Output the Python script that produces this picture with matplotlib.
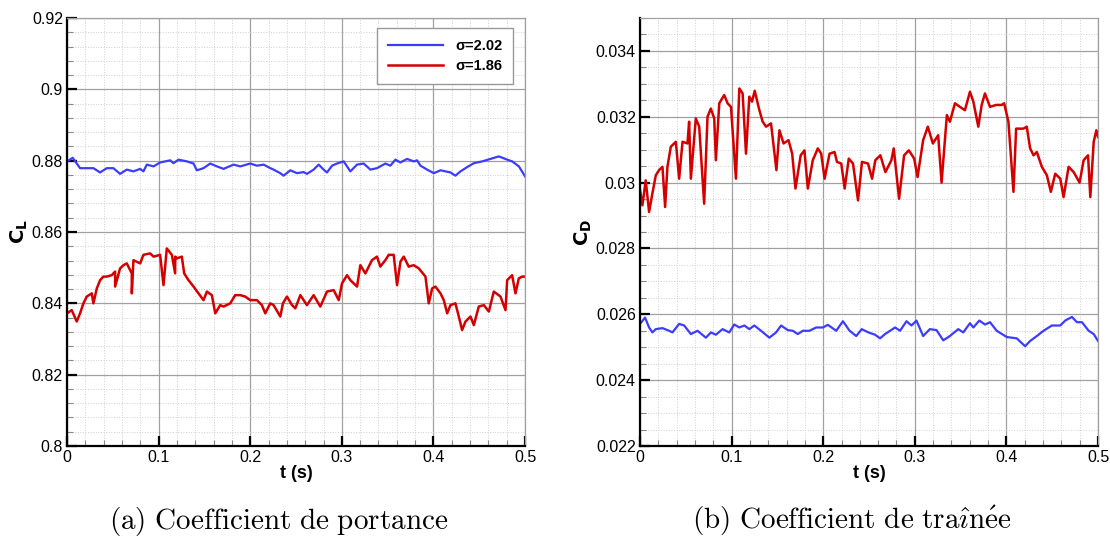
import numpy as np
import matplotlib
matplotlib.use('Agg')
import matplotlib.pyplot as plt
from matplotlib.ticker import MultipleLocator, FormatStrFormatter

# ---- données ----
# CL, sigma = 2.02
t_cl_b = [0, 0.0062, 0.0142, 0.0288, 0.0361, 0.0434, 0.0506, 0.0579, 0.0652, 0.0725,
          0.0798, 0.0834, 0.0871, 0.0944, 0.1016, 0.1126, 0.1162, 0.1217, 0.1308, 0.1381,
          0.1417, 0.149, 0.1563, 0.1636, 0.1709, 0.1818, 0.1891, 0.2, 0.2073, 0.2146,
          0.2219, 0.2255, 0.2328, 0.2364, 0.2437, 0.251, 0.2583, 0.2619, 0.2692, 0.2747,
          0.2801, 0.2838, 0.2893, 0.2947, 0.302, 0.3093, 0.3166, 0.3239, 0.3311, 0.3384,
          0.3475, 0.353, 0.3585, 0.3639, 0.3712, 0.3785, 0.3821, 0.3858, 0.3931, 0.4004,
          0.4077, 0.4186, 0.424, 0.4295, 0.4368, 0.4441, 0.4532, 0.4623, 0.4714, 0.4805,
          0.486, 0.4933, 0.5]
cl_b = [0.8798, 0.8808, 0.8779, 0.8779, 0.8767, 0.8779, 0.8779, 0.8763, 0.8775, 0.877,
        0.8777, 0.877, 0.8789, 0.8784, 0.8795, 0.8801, 0.8793, 0.8803, 0.8798, 0.8792,
        0.8773, 0.8779, 0.8792, 0.8784, 0.8777, 0.8789, 0.8784, 0.8792, 0.8786, 0.8789,
        0.8779, 0.8775, 0.8765, 0.8758, 0.8773, 0.8765, 0.8768, 0.8763, 0.8775, 0.8789,
        0.8775, 0.8767, 0.8786, 0.8792, 0.8798, 0.877, 0.8789, 0.8792, 0.8775, 0.8779,
        0.8792, 0.8786, 0.8803, 0.8795, 0.8805, 0.8798, 0.8801, 0.8786, 0.8775, 0.8765,
        0.8773, 0.8767, 0.8758, 0.877, 0.8782, 0.8793, 0.8798, 0.8805, 0.8812, 0.8803,
        0.8798, 0.8784, 0.8756]

# CL, sigma = 1.86
t_cl_r = [0, 0.0051, 0.0106, 0.0142, 0.0179, 0.0215, 0.027, 0.0288, 0.0325, 0.0361,
          0.0397, 0.0434, 0.0488, 0.0525, 0.0525, 0.0579, 0.0616, 0.0652, 0.0707, 0.0707,
          0.0725, 0.0798, 0.0834, 0.0907, 0.0944, 0.1016, 0.1053, 0.1089, 0.1144, 0.118,
          0.1181, 0.1199, 0.1253, 0.1279, 0.1326, 0.1381, 0.1435, 0.149, 0.1527, 0.1581,
          0.1618, 0.1672, 0.1709, 0.1782, 0.1836, 0.1891, 0.1945, 0.2, 0.2073, 0.2127,
          0.2164, 0.2219, 0.2255, 0.2328, 0.2357, 0.2401, 0.2456, 0.2492, 0.2547, 0.2619,
          0.2692, 0.2765, 0.2838, 0.2911, 0.2966, 0.3002, 0.3057, 0.3093, 0.3166, 0.3202,
          0.3257, 0.3329, 0.3384, 0.342, 0.3475, 0.3512, 0.3566, 0.3603, 0.364, 0.3676,
          0.373, 0.3785, 0.384, 0.3913, 0.3949, 0.3986, 0.4022, 0.4077, 0.4113, 0.415,
          0.4186, 0.424, 0.4277, 0.4313, 0.435, 0.4404, 0.4441, 0.4495, 0.455, 0.4605,
          0.4659, 0.4732, 0.4787, 0.4805, 0.4859, 0.4896, 0.4932, 0.4969, 0.5]
cl_r = [0.8372, 0.8381, 0.8349, 0.8372, 0.84, 0.8419, 0.8428, 0.84, 0.8442, 0.8465,
        0.8475, 0.8475, 0.8479, 0.8489, 0.8447, 0.8498, 0.8507, 0.8512, 0.8484, 0.8428,
        0.8521, 0.8512, 0.8536, 0.854, 0.8531, 0.8536, 0.8451, 0.8554, 0.8536, 0.8484,
        0.8531, 0.8526, 0.8531, 0.8484, 0.8465, 0.8447, 0.8428, 0.8409, 0.8433, 0.8423,
        0.8372, 0.8395, 0.8391, 0.84, 0.8423, 0.8423, 0.8419, 0.8409, 0.8409, 0.8395,
        0.8372, 0.84, 0.8395, 0.8363, 0.84, 0.8419, 0.8395, 0.8386, 0.8423, 0.8395,
        0.8423, 0.8391, 0.8433, 0.8437, 0.8409, 0.8456, 0.8479, 0.8465, 0.8447, 0.8507,
        0.8484, 0.8521, 0.8531, 0.8503, 0.8521, 0.8536, 0.8536, 0.8451, 0.8517, 0.8531,
        0.8503, 0.8507, 0.8498, 0.8475, 0.84, 0.8442, 0.8447, 0.8428, 0.8409, 0.8372,
        0.8395, 0.84, 0.8363, 0.8325, 0.8349, 0.8363, 0.8339, 0.8391, 0.8395, 0.8377,
        0.8433, 0.8419, 0.8381, 0.8465, 0.8479, 0.8428, 0.8470, 0.8475, 0.8475]

# CD, sigma = 1.86
t_cd_r = [0, 0.0026, 0.0062, 0.0099, 0.0135, 0.0172, 0.0208, 0.0245, 0.0274, 0.0299,
          0.0336, 0.0391, 0.0427, 0.0464, 0.0518, 0.0536, 0.0555, 0.0609, 0.0646, 0.07,
          0.0737, 0.0773, 0.0810, 0.0828, 0.0865, 0.0919, 0.0956, 0.0993, 0.1047, 0.1084,
          0.1120, 0.1157, 0.1193, 0.1223, 0.1252, 0.1303, 0.1339, 0.1376, 0.1430, 0.1489,
          0.1522, 0.1567, 0.1621, 0.1661, 0.1697, 0.1754, 0.1795, 0.1832, 0.1886, 0.1941,
          0.1978, 0.2015, 0.2069, 0.2124, 0.2150, 0.2197, 0.2234, 0.2279, 0.2325, 0.2380,
          0.2423, 0.2489, 0.2533, 0.2569, 0.2624, 0.2679, 0.2744, 0.2770, 0.2828, 0.2883,
          0.2935, 0.2993, 0.3030, 0.3091, 0.3142, 0.3197, 0.3255, 0.3292, 0.3350, 0.3383,
          0.3438, 0.3493, 0.3547, 0.3602, 0.3639, 0.3693, 0.3730, 0.3766, 0.3821, 0.3887,
          0.3949, 0.3975, 0.4022, 0.4077, 0.4106, 0.4186, 0.4222, 0.4259, 0.4296, 0.4332,
          0.4387, 0.4442, 0.4485, 0.4533, 0.4588, 0.4624, 0.4679, 0.4734, 0.4799, 0.4843,
          0.4891, 0.4916, 0.4953, 0.4982, 0.5]
cd_r = [0.02977, 0.02931, 0.03007, 0.02911, 0.02967, 0.03022, 0.03038, 0.03048, 0.02926, 0.03048,
        0.03109, 0.03124, 0.03012, 0.03124, 0.03119, 0.03185, 0.03012, 0.03195, 0.0317, 0.02936,
        0.032, 0.03225, 0.03195, 0.03068, 0.03241, 0.03266, 0.03241, 0.0323, 0.03012, 0.03286,
        0.03271, 0.03088, 0.03261, 0.03246, 0.03279, 0.0322, 0.03185, 0.0317, 0.0318, 0.03038,
        0.03159, 0.03119, 0.03129, 0.03088, 0.02982, 0.03083, 0.03098, 0.02982, 0.03068, 0.03104,
        0.03088, 0.03012, 0.03088, 0.03093, 0.03063, 0.03058, 0.02982, 0.03073, 0.03058, 0.02946,
        0.03063, 0.03058, 0.03012, 0.03068, 0.03083, 0.03032, 0.03068, 0.03104, 0.02951, 0.03083,
        0.03098, 0.03073, 0.03017, 0.03129, 0.0317, 0.03119, 0.03144, 0.03, 0.03205, 0.03185,
        0.03241, 0.0323, 0.0322, 0.03276, 0.03246, 0.0317, 0.03236, 0.03271, 0.0323, 0.03236,
        0.03236, 0.03241, 0.03185, 0.02972, 0.03164, 0.03164, 0.0317, 0.03104, 0.03083, 0.03093,
        0.03048, 0.03022, 0.02972, 0.03027, 0.03012, 0.02956, 0.03048, 0.03032, 0.0300, 0.03068,
        0.03083, 0.02956, 0.03124, 0.03159, 0.03139]

# CD, sigma = 2.02
t_cd_b = [0, 0.0055, 0.0099, 0.0135, 0.0172, 0.0245, 0.0318, 0.0354, 0.0427, 0.0482,
          0.0555, 0.0628, 0.0719, 0.0774, 0.0828, 0.0901, 0.0974, 0.1029, 0.1084, 0.1139,
          0.1193, 0.1248, 0.1321, 0.1412, 0.1485, 0.1540, 0.1613, 0.1668, 0.1723, 0.1777,
          0.1850, 0.1923, 0.1996, 0.2051, 0.2142, 0.2215, 0.2288, 0.2361, 0.2420, 0.2493,
          0.2566, 0.2620, 0.2675, 0.2730, 0.2785, 0.2839, 0.2909, 0.2964, 0.3018, 0.3091,
          0.3164, 0.3237, 0.3310, 0.3383, 0.3474, 0.3529, 0.3602, 0.3639, 0.3704, 0.3766,
          0.3821, 0.3894, 0.4004, 0.4113, 0.4204, 0.4259, 0.4332, 0.4405, 0.4496, 0.4588,
          0.4642, 0.4715, 0.4770, 0.4825, 0.4898, 0.4953, 0.5]
cd_b = [0.02571, 0.0259, 0.0256, 0.02545, 0.02555, 0.02558, 0.0255, 0.02545, 0.02571, 0.02566,
        0.0254, 0.0255, 0.02529, 0.02545, 0.02538, 0.02555, 0.02545, 0.02569, 0.0256, 0.02566,
        0.02555, 0.02566, 0.0255, 0.02529, 0.02545, 0.02566, 0.02552, 0.0255, 0.0254, 0.0255,
        0.0255, 0.0256, 0.0256, 0.02568, 0.0255, 0.02579, 0.0255, 0.02534, 0.02555, 0.02545,
        0.02538, 0.02527, 0.0254, 0.0255, 0.0256, 0.0255, 0.02579, 0.02566, 0.02581, 0.02534,
        0.02555, 0.02552, 0.02521, 0.02534, 0.02555, 0.02545, 0.02573, 0.0256, 0.02581, 0.02569,
        0.02576, 0.0255, 0.02531, 0.02527, 0.02503, 0.02519, 0.02534, 0.0255, 0.02566, 0.02566,
        0.02581, 0.02592, 0.02576, 0.02576, 0.0255, 0.0254, 0.02519]

sigmas = ['σ=2.02', 'σ=1.86']
# légendes des sous-figures (mathtext, police Computer Modern)
captions = [r'$\mathrm{(a)\ Coefficient\ de\ portance}$',
            r'$\mathrm{(b)\ Coefficient\ de\ tra\hat{\imath}n\acute{e}e}$']

blue = '#3c3cff'
red = '#d40000'

plt.rcParams['font.family'] = ['Liberation Sans', 'DejaVu Sans']
plt.rcParams['mathtext.fontset'] = 'cm'

fig = plt.figure(figsize=(11.1, 5.38), dpi=100)
ax1 = fig.add_axes([0.0604, 0.171, 0.4126, 0.7955])
ax2 = fig.add_axes([0.5766, 0.171, 0.4126, 0.7955])


def style_axis(ax, ymin, ymax, ymaj, ymin_step):
    ax.set_xlim(0, 0.5)
    ax.set_ylim(ymin, ymax)
    ax.xaxis.set_major_locator(MultipleLocator(0.1))
    ax.xaxis.set_minor_locator(MultipleLocator(0.02))
    ax.yaxis.set_major_locator(MultipleLocator(ymaj))
    ax.yaxis.set_minor_locator(MultipleLocator(ymin_step))
    ax.xaxis.set_major_formatter(FormatStrFormatter('%g'))
    ax.yaxis.set_major_formatter(FormatStrFormatter('%g'))
    ax.grid(True, which='major', color='#a0a0a0', lw=0.9, ls='-')
    ax.grid(True, which='minor', color='#d0d0d0', lw=0.7, ls=':')
    ax.set_axisbelow(True)
    ax.tick_params(which='major', direction='in', length=7, width=1.6, labelsize=11.5,
                   top=False, right=False, color='black', pad=3)
    ax.tick_params(which='minor', direction='in', length=4, width=0.8,
                   top=False, right=False, color='#888888')
    for s in ['left', 'bottom']:
        ax.spines[s].set_linewidth(1.6)
        ax.spines[s].set_color('black')
    for s in ['top', 'right']:
        ax.spines[s].set_linewidth(0.9)
        ax.spines[s].set_color('#a0a0a0')
    ax.set_xlabel('t (s)', fontsize=13, fontweight='bold', labelpad=0)


# portance
ax1.plot(t_cl_b, cl_b, color=blue, lw=1.6, label=sigmas[0])
ax1.plot(t_cl_r, cl_r, color=red, lw=1.8, label=sigmas[1])
style_axis(ax1, 0.8, 0.92, 0.02, 0.004)
ax1.set_ylabel(r'$\mathbf{C_L}$', fontsize=14, labelpad=1, math_fontfamily='dejavusans')
leg = ax1.legend(loc='upper right', bbox_to_anchor=(0.974, 0.977), borderaxespad=0,
                 fancybox=False, framealpha=1, edgecolor='#999999',
                 prop={'weight': 'bold', 'size': 10.5}, handlelength=3.8,
                 borderpad=0.75, labelspacing=0.4, handletextpad=0.8)
leg.get_frame().set_linewidth(1.0)

# traînée
ax2.plot(t_cd_r, cd_r, color=red, lw=1.8)
ax2.plot(t_cd_b, cd_b, color=blue, lw=1.6)
style_axis(ax2, 0.022, 0.035, 0.002, 0.0005)
ax2.set_ylabel(r'$\mathbf{C_D}$', fontsize=14, labelpad=1, math_fontfamily='dejavusans')

fig.text(0.2514, 0.016, captions[0], ha='center', va='baseline', fontsize=21)
fig.text(0.767, 0.016, captions[1], ha='center', va='baseline', fontsize=21)

fig.savefig('out.png', dpi=100)
